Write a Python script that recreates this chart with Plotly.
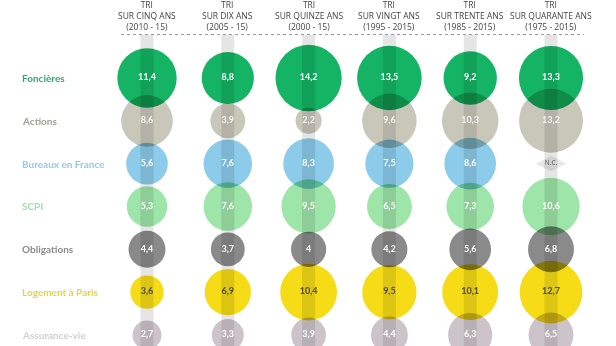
import plotly.graph_objects as go

# ---- data ----
categories = ["Foncières", "Actions", "Bureaux en France", "SCPI",
              "Obligations", "Logement à Paris", "Assurance-vie"]
period_titles = ["SUR CINQ ANS", "SUR DIX ANS", "SUR QUINZE ANS",
                 "SUR VINGT ANS", "SUR TRENTE ANS", "SUR QUARANTE ANS"]
period_ranges = ["(2010 - 15)", "(2005 - 15)", "(2000 - 15)",
                 "(1995 - 2015)", "(1985 - 2015)", "(1975 - 2015)"]
# values per category, across the six periods (None = N.C.)
foncieres = [11.4, 8.8, 14.2, 13.5, 9.2, 13.3]
actions = [8.6, 3.9, 2.2, 9.6, 10.3, 13.2]
bureaux = [5.6, 7.6, 8.3, 7.5, 8.6, None]
scpi = [5.3, 7.6, 9.5, 6.5, 7.3, 10.6]
obligations = [4.4, 3.7, 4.0, 4.2, 5.6, 6.8]
logement = [3.6, 6.9, 10.4, 9.5, 10.1, 12.7]
assurance = [2.7, 3.3, 3.9, 4.4, 6.3, 6.5]
series = [foncieres, actions, bureaux, scpi, obligations, logement, assurance]

circle_colors = ["#14b464", "#c9c7b9", "#8ccbea", "#9de5a8",
                 "#8a8a8a", "#f6dc16", "#cdc4c9"]
label_colors = ["#2faa6e", "#a09f94", "#93cbe6", "#a5e0b0",
                "#8c8c8c", "#e3d447", "#d3ced1"]
value_colors = ["#ffffff", "#f4f4f0", "#ffffff", "#ffffff",
                "#ffffff", "#4a4a3a", "#ffffff"]

W, H = 616, 346
col_px0, col_step = 147, 80.8
row_px0, row_step = 78, 42.83
x_range = [-col_px0 / col_step, (W - col_px0) / col_step]
y_range = [(H - row_px0) / row_step, -row_px0 / row_step]

def fmt(v):
    return f"{v:g}".replace(".", ",")

fig = go.Figure()

# circles
for r, vals in enumerate(series):
    xs = [c for c, v in enumerate(vals) if v is not None]
    vs = [v for v in vals if v is not None]
    fig.add_trace(go.Scatter(
        x=xs, y=[r] * len(xs), mode="markers",
        marker=dict(size=vs, sizemode="area", sizeref=2 / 17.6 ** 2,
                    color=circle_colors[r], opacity=1, line=dict(width=0)),
        hoverinfo="skip", showlegend=False))

# N.C. marker
for r, vals in enumerate(series):
    xs = [c for c, v in enumerate(vals) if v is None]
    if xs:
        fig.add_trace(go.Scatter(
            x=xs, y=[r] * len(xs), mode="markers+text", text=["N.C."] * len(xs),
            textposition="middle center",
            textfont=dict(family="Liberation Sans Narrow, Open Sans", size=6.5,
                          color="#666"),
            marker=dict(symbol="diamond-wide", size=22, color="#e8e8e8",
                        opacity=1, line=dict(width=0)),
            hoverinfo="skip", showlegend=False))

# vertical translucent bars
top_val = y_range[1] + 35 / row_step
for c in range(len(period_titles)):
    fig.add_trace(go.Scatter(
        x=[c, c], y=[top_val, y_range[0]], mode="lines",
        line=dict(color="rgba(0,0,0,0.1)", width=13),
        hoverinfo="skip", showlegend=False))

# value labels
for r, vals in enumerate(series):
    xs = [c for c, v in enumerate(vals) if v is not None]
    fig.add_trace(go.Scatter(
        x=xs, y=[r] * len(xs), mode="text",
        text=[fmt(v) for v in vals if v is not None],
        textposition="middle center",
        textfont=dict(family="Lato", size=9, color=value_colors[r], weight="bold"),
        hoverinfo="skip", showlegend=False))

# category labels
for r, name in enumerate(categories):
    fig.add_annotation(x=20 / W, xref="paper", y=r, yref="y", text=name,
                       showarrow=False, xanchor="left", yanchor="middle",
                       font=dict(family="Lato", size=10, color=label_colors[r],
                                 weight="bold"))

# headers
for c in range(len(period_titles)):
    fig.add_annotation(x=c, xref="x", y=1 - 16 / H, yref="paper",
                       text=f"TRI<br>{period_titles[c]}<br>{period_ranges[c]}",
                       showarrow=False, xanchor="center", yanchor="middle",
                       align="center",
                       font=dict(family="Liberation Sans Narrow, Open Sans",
                                 size=8.5, color="#444"))

fig.add_shape(type="line", xref="paper", yref="paper",
              x0=121 / W, x1=584 / W, y0=1 - 34.5 / H, y1=1 - 34.5 / H,
              line=dict(color="#999", width=1, dash="dot"))

fig.update_layout(
    width=W, height=H, margin=dict(l=0, r=0, t=0, b=0),
    paper_bgcolor="white", plot_bgcolor="white",
    xaxis=dict(range=x_range, visible=False, fixedrange=True),
    yaxis=dict(range=y_range, visible=False, fixedrange=True),
)

post = """
var gd = document.querySelectorAll('.js-plotly-plot')[0];
function blend(){
  document.querySelectorAll('.scatterlayer .trace .points path.point').forEach(function(p){
    p.style.mixBlendMode = 'multiply';
  });
}
blend();
if (gd && gd.on) { gd.on('plotly_afterplot', blend); }
"""

fig.write_html("out.html", post_script=post)
